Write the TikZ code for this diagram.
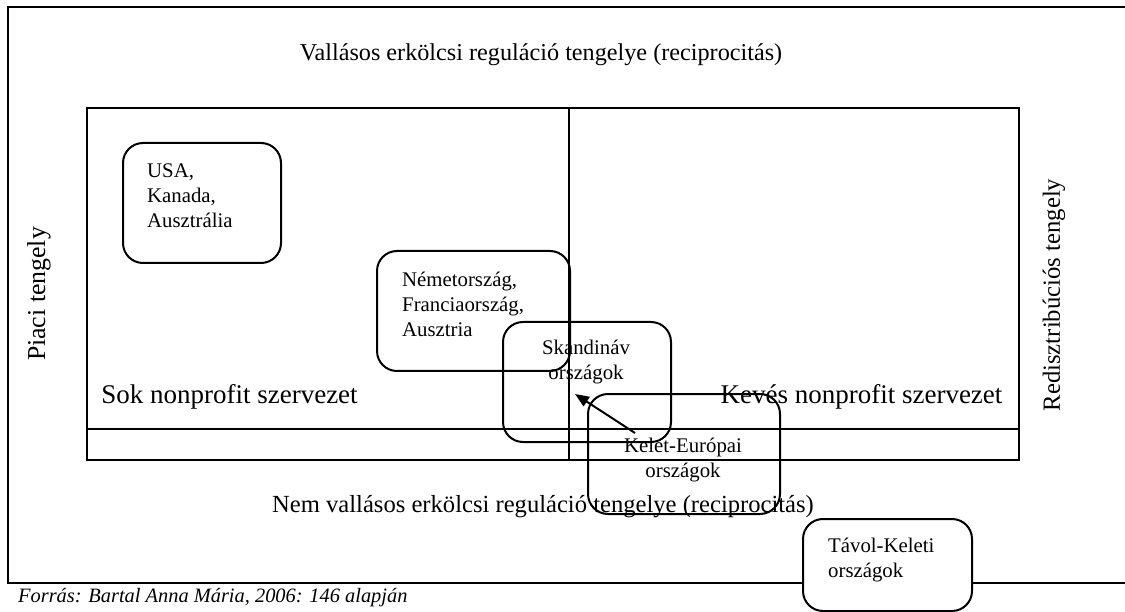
\documentclass[tikz,border=0pt]{standalone}
\usepackage{fontspec}
\setmainfont{Liberation Serif}
\usetikzlibrary{arrows.meta}
\begin{document}
\begin{tikzpicture}[x=1pt,y=-1pt,
  frameline/.style={line width=2.2pt},
  country/.style={draw,line width=2pt,rounded corners=20pt,inner sep=0pt},
  bigtext/.style={font=\fontsize{24.2}{28}\selectfont,inner sep=0pt},
  fieldtext/.style={font=\fontsize{27}{30}\selectfont,inner sep=0pt},
  smalltext/.style={font=\fontsize{20.8}{25}\selectfont,inner sep=0pt},
  srctext/.style={font=\fontsize{20.4}{22}\selectfont\itshape,inner sep=0pt}]
\useasboundingbox (0,0) rectangle (1125,612);
\begin{scope}
\clip (0,0) rectangle (1125,612);
% outer frame (right side runs past the edge)
\draw[frameline] (1140,7) -- (8,7) -- (8,583) -- (1140,583);
% inner field with the separating lines
\draw[frameline] (87,108) rectangle (1019,460);
\draw[frameline] (87,429) -- (1019,429);
\draw[frameline] (569,108) -- (569,460);

% axis labels
\node[bigtext] (top) at (541,55) {Vallásos erkölcsi reguláció tengelye (reciprocitás)};
\node[bigtext,anchor=base,font=\fontsize{24.6}{28}\selectfont] (bottom) at (543,512) {Nem vallásos erkölcsi reguláció tengelye (reciprocitás)};
\node[bigtext,rotate=90,font=\fontsize{25.8}{28}\selectfont] (left) at (39,294) {Piaci tengely};
\node[bigtext,rotate=90,font=\fontsize{24.7}{28}\selectfont] (right) at (1054,295) {Redisztribúciós tengely};
\node[fieldtext] (sok) at (229.5,397) {Sok nonprofit szervezet};
\node[fieldtext] (keves) at (861.5,397) {Kevés nonprofit szervezet};

% country groups
\node[country,minimum width=158pt,minimum height=120pt] (usa) at (202,203) {};
\node[smalltext,anchor=west,align=left] (usat) at (147,196) {USA,\\Kanada,\\Ausztrália};
\node[country,minimum width=193pt,minimum height=120pt] (nemet) at (473.5,311) {};
\node[smalltext,anchor=west,align=left] (nemett) at (402,304) {Németország,\\Franciaország,\\Ausztria};
\node[country,minimum width=168pt,minimum height=120pt] (skand) at (587,382) {};
\node[smalltext,align=center] (skandt) at (586,362) {Skandináv\\országok};
\node[country,minimum width=192pt,minimum height=120pt] (kelet) at (684,454) {};
\node[smalltext,align=center] (keletet) at (683,460) {Kelet-Európai\\országok};
\node[country,fill=white,minimum width=169pt,minimum height=92pt] (tavol) at (887.5,565) {};
\node[smalltext,anchor=west,align=left] (tavolt) at (828,560) {Távol-Keleti\\országok};

% movement of the eastern european countries
\coordinate (from) at (635,433);
\coordinate (to) at (575,394);
\draw[line width=2pt,-{Triangle[length=14pt,width=11pt]}] (from) -- (to);
\end{scope}
\node[srctext,anchor=west] (src) at (18,598) {Forrás: Bartal Anna Mária, 2006: 146 alapján};
\end{tikzpicture}
\end{document}
